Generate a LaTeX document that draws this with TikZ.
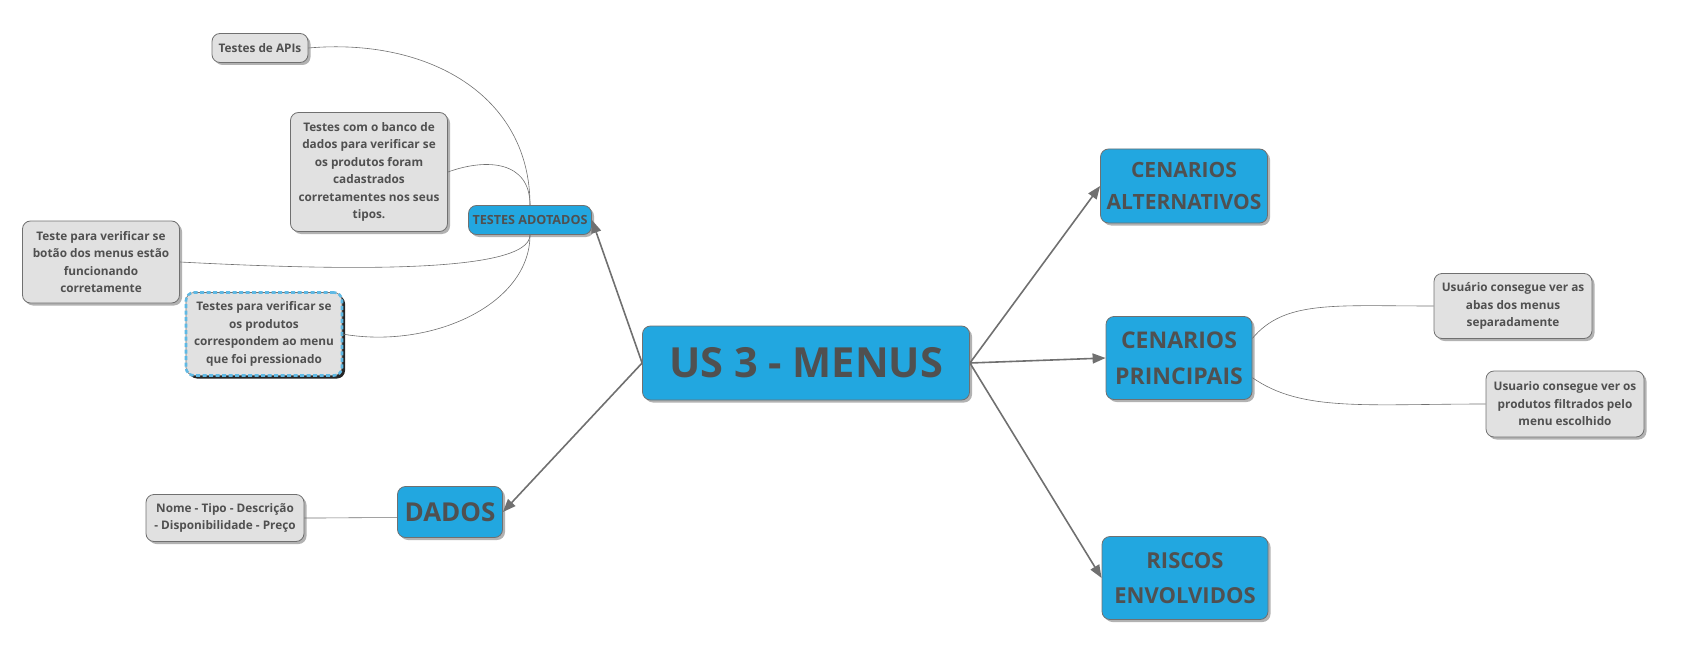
\documentclass[tikz,border=0pt]{standalone}
\usepackage{fontspec}
\setmainfont{Open Sans}
\usetikzlibrary{arrows.meta,shadows}
\definecolor{topicblue}{RGB}{34,167,224}
\definecolor{inkgray}{RGB}{80,80,80}
\definecolor{notefill}{RGB}{225,225,225}
\definecolor{edgegray}{RGB}{112,112,112}
\definecolor{selblue}{RGB}{95,185,228}

\begin{document}
\begin{tikzpicture}[x=1pt, y=1pt,
	every node/.style={text=inkgray, align=center, inner sep=0},
	topic/.style={rectangle, rounded corners=8pt, draw=edgegray, line width=0.8pt,
				fill=topicblue, drop shadow={shadow xshift=2.5pt, shadow yshift=-2.5pt,
				fill=black, opacity=0.3}},
	notebase/.style={rectangle, rounded corners=8pt, fill=notefill,
				font=\bfseries\fontsize{11.8}{17.5}\selectfont},
	note/.style={notebase, draw=edgegray, line width=0.8pt,
				drop shadow={shadow xshift=2.5pt, shadow yshift=-2.5pt,
				fill=black, opacity=0.3}},
	picked/.style={notebase, draw=edgegray, line width=0.6pt,
				drop shadow={shadow xshift=3pt, shadow yshift=-3pt,
				fill=black, opacity=0.85},
				postaction={draw=selblue, line width=2.6pt, dash pattern=on 4pt off 2.5pt}},
	link/.style={draw=edgegray, line width=1.6pt, -{Triangle[length=13pt, width=10pt]}},
	branch/.style={draw=edgegray, line width=0.6pt}]
	\useasboundingbox (0,0) rectangle (1699,-655);

	% central topic and main branches
	\node[topic, minimum width=327pt, minimum height=74pt,
		font=\bfseries\fontsize{41.5}{48}\selectfont] (menus) at (806,-363) {US 3 - MENUS};
	\node[topic, minimum width=123pt, minimum height=29pt,
		font=\bfseries\fontsize{12.6}{15}\selectfont] (testes) at (530,-220) {TESTES ADOTADOS};
	\node[topic, minimum width=105pt, minimum height=51pt,
		font=\bfseries\fontsize{26}{30}\selectfont] (dados) at (450,-512) {DADOS};
	\node[topic, minimum width=167pt, minimum height=74pt,
		font=\bfseries\fontsize{21}{32}\selectfont] (alt) at (1184,-186) {CENARIOS\\ALTERNATIVOS};
	\node[topic, minimum width=146pt, minimum height=83pt,
		font=\bfseries\fontsize{23}{36}\selectfont] (princ) at (1179,-358) {CENARIOS\\PRINCIPAIS};
	\node[topic, minimum width=166pt, minimum height=83pt,
		font=\bfseries\fontsize{22}{35}\selectfont] (riscos) at (1185,-578) {RISCOS\\ENVOLVIDOS};

	\draw[link] (menus.west) -- (testes.east);
	\draw[link] (menus.west) -- (dados.east);
	\draw[link] (menus.east) -- (alt.west);
	\draw[link] (menus.east) -- (princ.west);
	\draw[link] (menus.east) -- (riscos.west);

	% notes
	\node[note, minimum width=96pt, minimum height=29pt] (apis) at (260,-48) {Testes de APIs};
	\node[note, minimum width=157pt, minimum height=119pt] (banco) at (369,-172)
		{Testes com o banco de\\dados para verificar se\\os produtos foram\\cadastrados\\corretamentes nos seus\\tipos.};
	\node[note, minimum width=157pt, minimum height=82pt] (botao) at (101,-262)
		{Teste para verificar se\\botão dos menus estão\\funcionando\\corretamente};
	\node[picked, minimum width=156pt, minimum height=83pt] (produtos) at (264,-334)
		{Testes para verificar se\\os produtos\\correspondem ao menu\\que foi pressionado};
	\node[note, minimum width=158pt, minimum height=47pt] (campos) at (225,-518)
		{Nome - Tipo - Descrição\\- Disponibilidade - Preço};
	\node[note, minimum width=158pt, minimum height=65pt] (abas) at (1513,-306)
		{Usuário consegue ver as\\abas dos menus\\separadamente};
	\node[note, minimum width=158pt, minimum height=66pt] (filtro) at (1565,-404)
		{Usuario consegue ver os\\produtos filtrados pelo\\menu escolhido};

	\draw[branch] (testes.north) to[out=90, in=5, out distance=110pt, in distance=120pt] (apis.east);
	\draw[branch] (testes.north) to[out=90, in=20, out distance=45pt, in distance=40pt] (banco.east);
	\draw[branch] (testes.south) to[out=-90, in=-3, out distance=40pt, in distance=150pt] (botao.east);
	\draw[branch] (testes.south) to[out=-90, in=-10, out distance=70pt, in distance=90pt] (produtos.east);
	\draw[branch] (campos.east) to[out=0, in=180] (dados.186);
	\draw[branch] (princ.15) to[out=50, in=180, out distance=50pt, in distance=100pt] (abas.west);
	\draw[branch] (princ.-15) to[out=-35, in=180, out distance=60pt, in distance=120pt] (filtro.west);
\end{tikzpicture}
\end{document}
